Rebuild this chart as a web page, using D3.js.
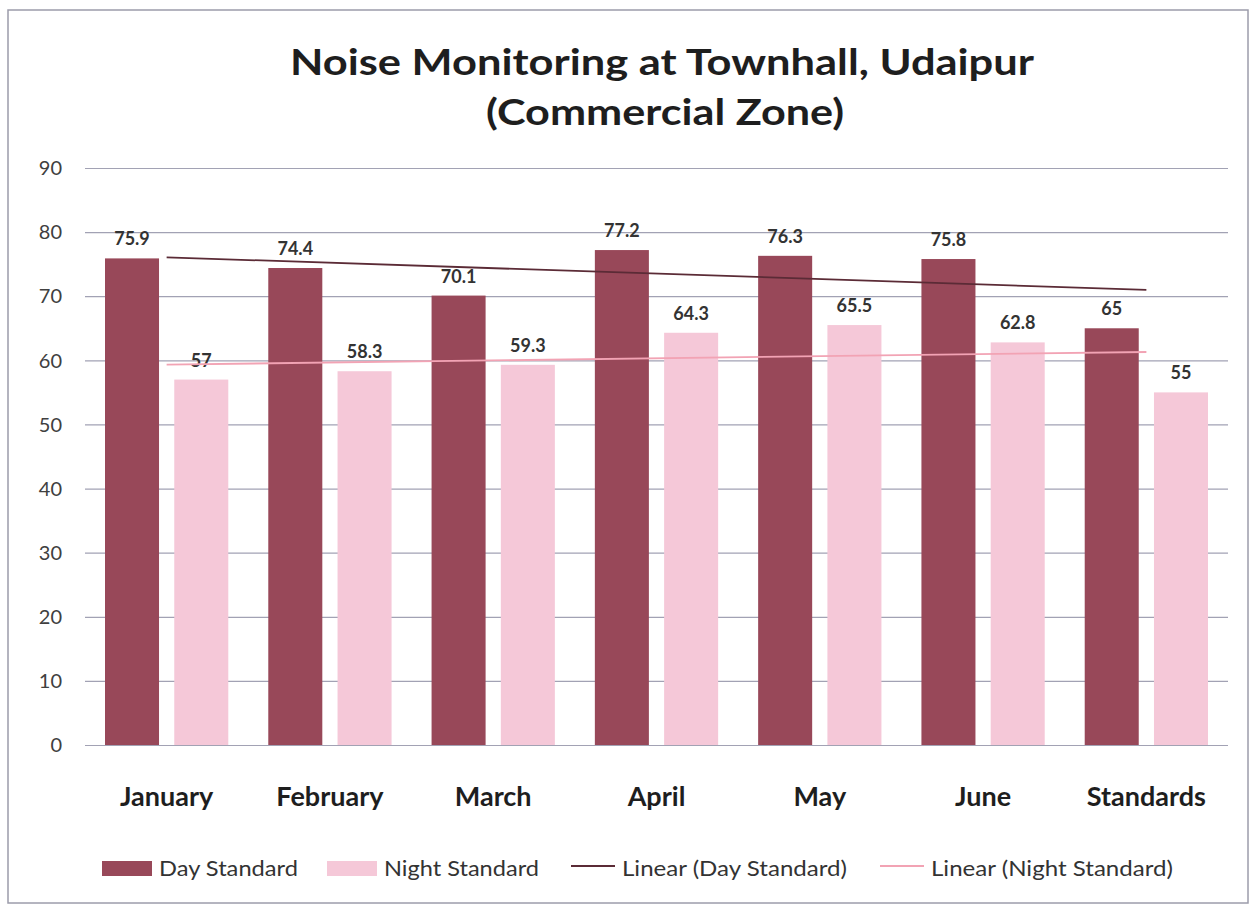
<!DOCTYPE html>
<html>
<head>
<meta charset="utf-8">
<style>
  body { margin: 0; background: #fff; }
  text { font-family: "Lato", "Open Sans", sans-serif; }
  .grid line { stroke: #a2a2b4; stroke-width: 1.2px; }
  .grid .domain { display: none; }
</style>
</head>
<body>
<svg width="1256" height="907"></svg>
<script src="https://cdn.jsdelivr.net/npm/d3@7"></script>
<script>

var months = ["January", "February", "March", "April", "May", "June", "Standards"];
var dayValues = [75.9, 74.4, 70.1, 77.2, 76.3, 75.8, 65];
var nightValues = [57, 58.3, 59.3, 64.3, 65.5, 62.8, 55];
var yTicks = [0, 10, 20, 30, 40, 50, 60, 70, 80, 90];
var seriesNames = ["Day Standard", "Night Standard"];

var svg = d3.select("svg"),
    margin = {top: 168, right: 28, bottom: 162, left: 85},
    width = +svg.attr("width") - margin.left - margin.right,
    height = +svg.attr("height") - margin.top - margin.bottom;

var colors = {day: "#984859", night: "#f5c8d8", dayTrend: "#5b2b36", nightTrend: "#f2a3b4"};

// outer frame like the scanned chart box
svg.append("rect")
    .attr("x", 8).attr("y", 10)
    .attr("width", 1240).attr("height", 893)
    .attr("fill", "none")
    .attr("stroke", "#9c9cab")
    .attr("stroke-width", 1.5);

svg.append("text")
    .attr("x", 662).attr("y", 75)
    .attr("text-anchor", "middle")
    .attr("font-size", 37).attr("font-weight", "bold").attr("fill", "#1e1e1e")
    .attr("textLength", 744).attr("lengthAdjust", "spacingAndGlyphs")
    .text("Noise Monitoring at Townhall, Udaipur");

svg.append("text")
    .attr("x", 665).attr("y", 125)
    .attr("text-anchor", "middle")
    .attr("font-size", 37).attr("font-weight", "bold").attr("fill", "#1e1e1e")
    .attr("textLength", 358).attr("lengthAdjust", "spacingAndGlyphs")
    .text("(Commercial Zone)");

var g = svg.append("g").attr("transform", "translate(" + margin.left + "," + margin.top + ")");

var y = d3.scaleLinear().domain([0, 90]).range([height, 0]);

var x0 = d3.scaleBand().domain(months).range([0, width]);
var x1 = d3.scaleBand().domain(seriesNames)
    .range([20, x0.bandwidth() - 20])
    .paddingInner(0.22);

// gridlines
g.append("g")
    .attr("class", "grid")
    .call(d3.axisLeft(y).tickValues(yTicks).tickSize(-width).tickFormat(""));

// y tick labels
g.append("g")
  .selectAll("text")
  .data(yTicks)
  .enter().append("text")
    .attr("x", -23)
    .attr("y", function(d) { return y(d); })
    .attr("dy", "0.36em")
    .attr("text-anchor", "end")
    .attr("font-size", 20).attr("fill", "#404040")
    .text(function(d) { return d; });

var rows = months.map(function(m, i) {
    return {month: m, values: [
        {key: seriesNames[0], value: dayValues[i], color: colors.day},
        {key: seriesNames[1], value: nightValues[i], color: colors.night}
    ]};
});

var groups = g.selectAll(".cat")
  .data(rows)
  .enter().append("g")
    .attr("class", "cat")
    .attr("transform", function(d) { return "translate(" + x0(d.month) + ",0)"; });

groups.selectAll("rect")
  .data(function(d) { return d.values; })
  .enter().append("rect")
    .attr("x", function(d) { return x1(d.key); })
    .attr("y", function(d) { return y(d.value); })
    .attr("width", x1.bandwidth())
    .attr("height", function(d) { return height - y(d.value); })
    .attr("fill", function(d) { return d.color; });

groups.selectAll(".lbl")
  .data(function(d) { return d.values; })
  .enter().append("text")
    .attr("class", "lbl")
    .attr("x", function(d) { return x1(d.key) + x1.bandwidth() / 2; })
    .attr("y", function(d) { return y(d.value) - 13; })
    .attr("text-anchor", "middle")
    .attr("font-size", 18).attr("font-weight", "bold").attr("fill", "#333")
    .text(function(d) { return d.value; });

// linear trendlines (least squares over category index, like Excel)
function trend(vals) {
    var n = vals.length, mx = (n - 1) / 2, my = d3.mean(vals);
    var num = d3.sum(vals, function(v, i) { return (i - mx) * (v - my); });
    var den = d3.sum(vals, function(v, i) { return (i - mx) * (i - mx); });
    var b = num / den, a = my - b * mx;
    return [[0, a], [n - 1, a + b * (n - 1)]];
}

var line = d3.line()
    .x(function(d) { return x0(months[d[0]]) + x0.bandwidth() / 2; })
    .y(function(d) { return y(d[1]); });

g.append("path")
    .datum(trend(dayValues))
    .attr("d", line)
    .attr("fill", "none").attr("stroke", colors.dayTrend).attr("stroke-width", 1.8);

g.append("path")
    .datum(trend(nightValues))
    .attr("d", line)
    .attr("fill", "none").attr("stroke", colors.nightTrend).attr("stroke-width", 1.8);

// category labels
g.append("g")
  .selectAll("text")
  .data(months)
  .enter().append("text")
    .attr("x", function(d) { return x0(d) + x0.bandwidth() / 2; })
    .attr("y", height + 61)
    .attr("text-anchor", "middle")
    .attr("font-size", 27).attr("font-weight", "bold").attr("fill", "#1e1e1e")
    .text(function(d) { return d; });

// legend
var legend = svg.append("g").attr("transform", "translate(0,868)");
var legendItems = [
    {label: "Day Standard", type: "box", color: colors.day, x: 102, w: 50, tw: 139},
    {label: "Night Standard", type: "box", color: colors.night, x: 327, w: 50, tw: 155},
    {label: "Linear (Day Standard)", type: "line", color: colors.dayTrend, x: 571, w: 44, tw: 225},
    {label: "Linear (Night Standard)", type: "line", color: colors.nightTrend, x: 880, w: 44, tw: 242}
];

legendItems.forEach(function(it) {
    if (it.type === "box") {
        legend.append("rect")
            .attr("x", it.x).attr("y", -7)
            .attr("width", it.w).attr("height", 15)
            .attr("fill", it.color);
    } else {
        legend.append("line")
            .attr("x1", it.x).attr("x2", it.x + it.w)
            .attr("y1", -2).attr("y2", -2)
            .attr("stroke", it.color).attr("stroke-width", 1.8);
    }
    legend.append("text")
        .attr("x", it.x + it.w + 7)
        .attr("y", 0)
        .attr("dy", "0.35em")
        .attr("font-size", 22).attr("fill", "#333")
        .attr("textLength", it.tw).attr("lengthAdjust", "spacingAndGlyphs")
        .text(it.label);
});

</script>
</body>
</html>
